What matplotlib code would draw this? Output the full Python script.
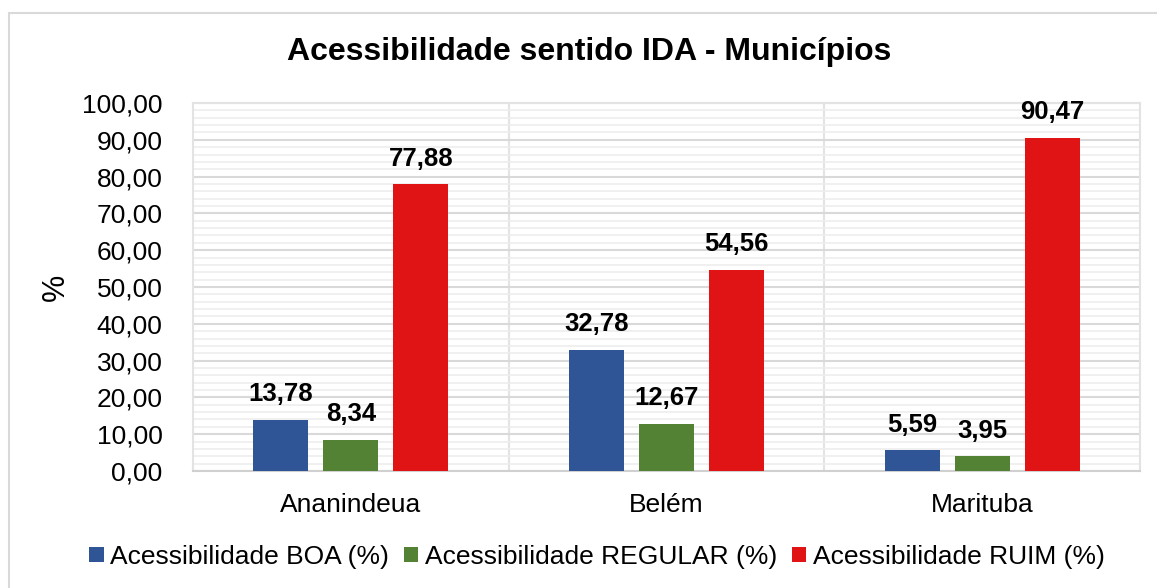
import numpy as np
import matplotlib.pyplot as plt
from matplotlib.patches import Rectangle
from matplotlib.ticker import MultipleLocator, FuncFormatter

municipios = ['Ananindeua', 'Belém', 'Marituba']
boa = [13.78, 32.78, 5.59]
regular = [8.34, 12.67, 3.95]
ruim = [77.88, 54.56, 90.47]
series_names = ['Acessibilidade BOA (%)', 'Acessibilidade REGULAR (%)', 'Acessibilidade RUIM (%)']
cores = ['#2F5597', '#548235', '#E01414']

plt.rcParams['font.family'] = ['Liberation Sans', 'DejaVu Sans']

fig = plt.figure(figsize=(11.57, 5.88), dpi=100)
fig.patch.set_facecolor('white')
# moldura clara do grafico
fig.patches.append(Rectangle((9 / 1157, -0.05), 1.2, 1 - 13 / 588 + 0.05,
                             transform=fig.transFigure, fill=False,
                             edgecolor='#D9D9D9', linewidth=1.5))

ax = fig.add_axes([0.1668, 0.199, 0.8185, 0.6258])

x = np.arange(len(municipios))
larg = 0.174
passo = 0.2215
for i, (vals, nome, cor) in enumerate(zip([boa, regular, ruim], series_names, cores)):
    barras = ax.bar(x + (i - 1) * passo, vals, larg, color=cor, label=nome, zorder=3)
    for b, v in zip(barras, vals):
        ax.annotate(f'{v:.2f}'.replace('.', ','), (b.get_x() + b.get_width() / 2, v),
                    xytext=(0, 10), textcoords='offset points', ha='center', va='bottom',
                    fontsize=18.5, fontweight='bold', zorder=4)

ax.set_xlim(-0.5, 2.5)
ax.set_ylim(0, 100)
ax.yaxis.set_major_locator(MultipleLocator(10))
ax.yaxis.set_minor_locator(MultipleLocator(2))
ax.yaxis.set_major_formatter(FuncFormatter(lambda v, p: f'{v:.2f}'.replace('.', ',')))
ax.set_xticks(x)
ax.set_xticklabels(municipios)
ax.set_xticks([0.5, 1.5], minor=True)

ax.grid(axis='y', which='major', color='#D9D9D9', linewidth=1.5, zorder=0)
ax.grid(axis='y', which='minor', color='#EDEDED', linewidth=1.2, zorder=0)
ax.grid(axis='x', which='minor', color='#E3E3E3', linewidth=1.5, zorder=0)
for s in ax.spines.values():
    s.set_color('#E3E3E3')
    s.set_linewidth(1.5)
ax.spines['bottom'].set_color('#D0D0D0')

ax.tick_params(axis='both', which='both', length=0, labelsize=19)
ax.tick_params(axis='y', pad=22)
ax.tick_params(axis='x', pad=16)

ax.set_ylabel('%', fontsize=22, labelpad=8)
fig.suptitle('Acessibilidade sentido IDA - Municípios', fontsize=23, fontweight='bold',
             x=0.509, y=0.912, va='center')

fig.legend(loc='center', bbox_to_anchor=(0.516, 0.053), ncol=3, frameon=False,
           fontsize=19, handlelength=0.55, handleheight=0.55, handletextpad=0.25,
           columnspacing=0.55)

plt.savefig('out.png', dpi=100)
